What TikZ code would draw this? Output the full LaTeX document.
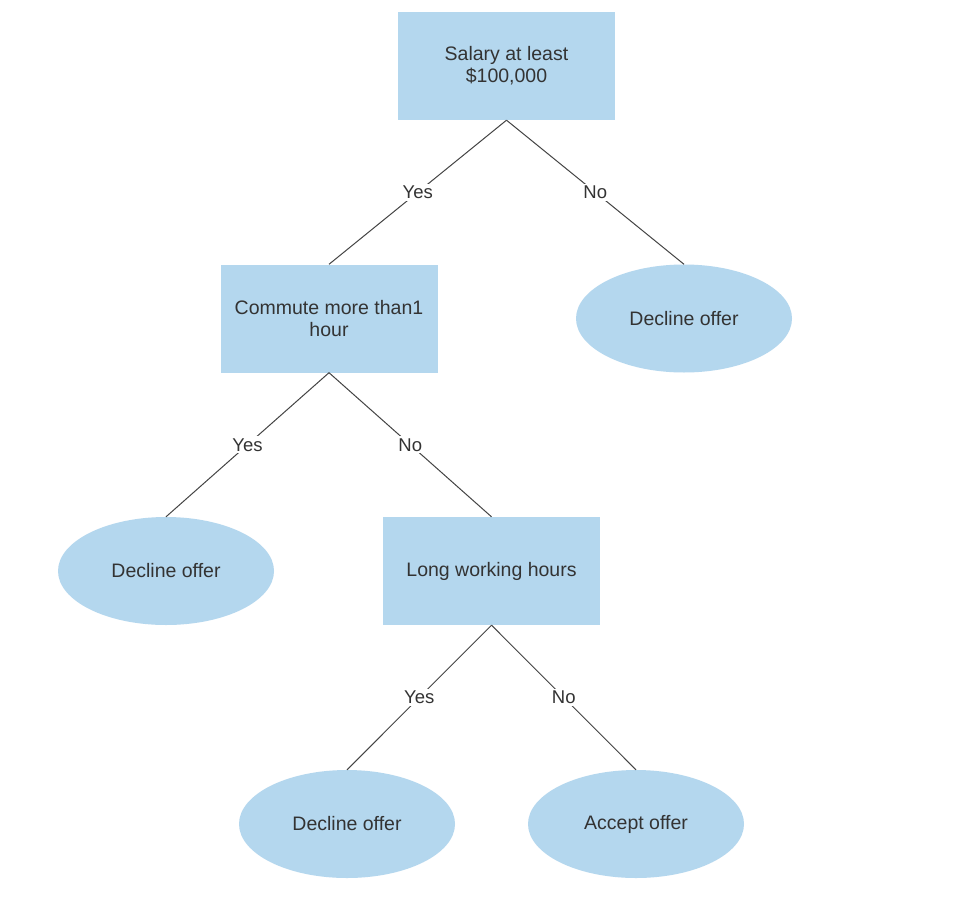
\documentclass[tikz,border=0pt]{standalone}
\usepackage{fontspec}
\setmainfont{Liberation Sans}
\usetikzlibrary{shapes.geometric}
\definecolor{nodefill}{RGB}{180,215,238}
\definecolor{txt}{RGB}{51,51,51}
\definecolor{edge}{RGB}{68,68,68}
\tikzset{
  decbox/.style={rectangle, fill=nodefill, minimum width=217pt, minimum height=108pt, inner sep=0pt, text=txt, font=\fontsize{19.5}{22}\selectfont, align=center},
  leaf/.style={ellipse, fill=nodefill, minimum width=216pt, minimum height=108pt, inner sep=0pt, text=txt, font=\fontsize{19.5}{22}\selectfont},
  conn/.style={draw=edge, line width=1pt},
  lbl/.style={fill=white, text=txt, inner sep=2pt, font=\fontsize{18.5}{22}\selectfont}
}
\begin{document}
\begin{tikzpicture}[x=1pt,y=-1pt]
\useasboundingbox (0,0) rectangle (976,907);
\fill[white] (0,0) rectangle (976,907);
\node[decbox] (salary) at (506.5,66) {Salary at least\\\$100,000};
\node[decbox] (commute) at (329,318.5) {Commute more than1\\hour};
\node[leaf] (decline1) at (684,318.5) {Decline offer};
\node[leaf] (decline2) at (166,571) {Decline offer};
\node[decbox] (hours) at (491.5,571) {Long working hours};
\node[leaf] (decline3) at (347,824) {Decline offer};
\node[leaf] (accept) at (636,824) {Accept offer};

\draw[conn] (salary.south) -- node[lbl] {Yes} (commute.north);
\draw[conn] (salary.south) -- node[lbl] {No} (decline1.north);
\draw[conn] (commute.south) -- node[lbl] {Yes} (decline2.north);
\draw[conn] (commute.south) -- node[lbl] {No} (hours.north);
\draw[conn] (hours.south) -- node[lbl] {Yes} (decline3.north);
\draw[conn] (hours.south) -- node[lbl] {No} (accept.north);
\end{tikzpicture}
\end{document}
